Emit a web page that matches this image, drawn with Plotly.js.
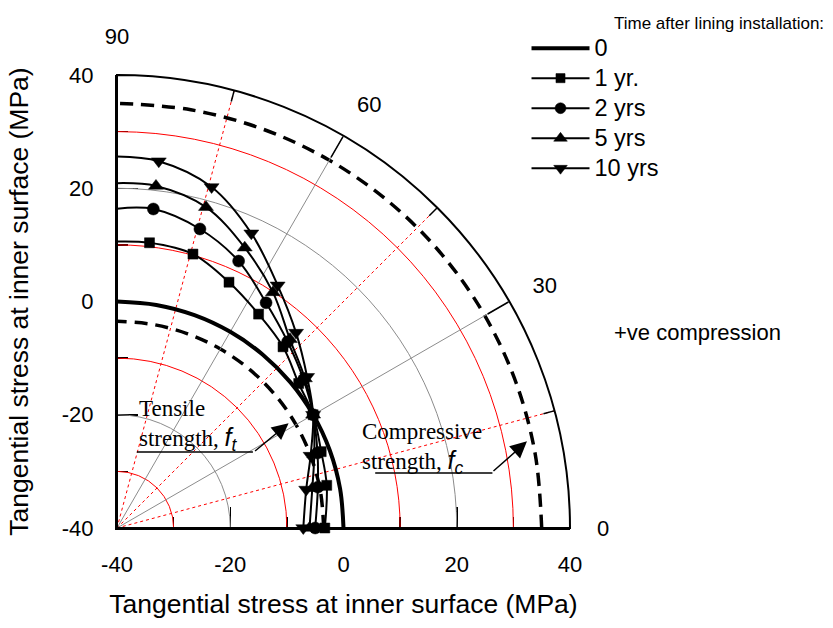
<!DOCTYPE html>
<html><head><meta charset="utf-8">
<script src="https://cdn.plot.ly/plotly-3.0.1.min.js"></script>
<style>html,body{margin:0;padding:0;background:#fff}#chart{width:833px;height:628px}</style>
</head><body><div id="chart"></div>
<script>
// ---- data (theta in degrees, r in MPa) ----
const seriesNames = ['0', '1 yr.', '2 yrs', '5 yrs', '10 yrs'];
const thetaRef = [0, 10, 20, 30, 40, 50, 60, 70, 80, 90];
const rZero = [0, 0, 0, 0, 0, 0, 0, 0, 0, 0];
const rTensile = [-3.5, -3.5, -3.5, -3.5, -3.5, -3.5, -3.5, -3.5, -3.5, -3.5];
const rCompressive = [35, 35, 35, 35, 35, 35, 35, 35, 35, 35];
const thetaSeries = [0, 11.5, 20.5, 30, 38.5, 47.5, 56.5, 65.5, 74.5, 83.5, 90];
const r1yr = [-3.3, -2.2, -1.5, 0, 1.0, 3.4, 5.3, 7.7, 10.2, 10.7, 10.6];
const r2yrs = [-5.0, -3.8, -2.2, 0, 2.1, 4.6, 7.7, 11.8, 14.8, 16.7, 16.4];
const r5yrs = [-6.0, -4.8, -2.8, 0, 2.4, 5.2, 9.9, 14.4, 18.8, 20.8, 20.9];
const r10yrs = [-7.1, -5.9, -3.5, 0, 2.9, 6.8, 11.4, 17.2, 22.5, 25.2, 25.6];
const angleTicks = [0, 30, 60, 90];
const axisTicks = [-40, -20, 0, 20, 40];
const axisTickText = ['-40', '-20', '0', '20', '40'];

const SANS = '"Liberation Sans", Arial, sans-serif';
const SERIF = '"Liberation Serif", "Times New Roman", serif';

function mSizes(th, s) { return th.map(t => t === 90 ? 0 : s); }
function mk(symbol, size) {
  return {symbol: symbol, size: mSizes(thetaSeries, size), color: '#000', opacity: 1, line: {color: '#000', width: 0.5}};
}
function legendName(i) { return '<span style="font-size:23.5px">' + seriesNames[i] + '</span>'; }

const traces = [
  {type: 'scatterpolar', subplot: 'polar', theta: thetaRef, r: rTensile, mode: 'lines',
   line: {color: '#000', width: 3.5, dash: '13px,8px', shape: 'spline'}, showlegend: false, hoverinfo: 'skip'},
  {type: 'scatterpolar', subplot: 'polar', theta: thetaRef, r: rCompressive, mode: 'lines',
   line: {color: '#000', width: 3.5, dash: '13px,8px', shape: 'spline'}, showlegend: false, hoverinfo: 'skip'},
  {type: 'scatterpolar', subplot: 'polar2', theta: thetaRef, r: rZero, mode: 'lines', name: legendName(0),
   line: {color: '#000', width: 4, shape: 'spline'}},
  {type: 'scatterpolar', subplot: 'polar3', theta: thetaSeries, r: r1yr, mode: 'lines+markers', name: legendName(1),
   line: {color: '#000', width: 2, shape: 'spline'}, marker: mk('square', 10)},
  {type: 'scatterpolar', subplot: 'polar3', theta: thetaSeries, r: r2yrs, mode: 'lines+markers', name: legendName(2),
   line: {color: '#000', width: 2, shape: 'spline'}, marker: mk('circle', 12)},
  {type: 'scatterpolar', subplot: 'polar3', theta: thetaSeries, r: r5yrs, mode: 'lines+markers', name: legendName(3),
   line: {color: '#000', width: 2, shape: 'spline'}, marker: mk('triangle-up', 13)},
  {type: 'scatterpolar', subplot: 'polar3', theta: thetaSeries, r: r10yrs, mode: 'lines+markers', name: legendName(4),
   line: {color: '#000', width: 2, shape: 'spline'}, marker: mk('triangle-down', 13)}
];

const dom = {x: [0, 1], y: [0, 1]};
const baseRadial = {range: [-40, 40], showline: false, showticklabels: false, ticks: ''};
function cartAxis(standoff, labelStandoff) {
  return {range: [-40, 40], domain: [0, 1], showgrid: false, zeroline: false, showline: true, linecolor: '#000', linewidth: 2,
    tickmode: 'array', tickvals: axisTicks, ticktext: axisTickText, ticks: 'inside', ticklen: 21, tickwidth: 1.5, tickcolor: '#000',
    minor: {tickmode: 'linear', tick0: -40, dtick: 10, ticks: 'inside', ticklen: 11, tickwidth: 1.5, tickcolor: '#000'},
    tickfont: {size: 22}, ticklabelstandoff: labelStandoff, fixedrange: true,
    title: {text: 'Tangential stress at inner surface (MPa)', font: {size: 26.5}, standoff: standoff}};
}
const layout = {
  width: 833, height: 628,
  margin: {l: 117, r: 263, t: 75, b: 100, pad: 0},
  paper_bgcolor: '#fff', plot_bgcolor: 'rgba(0,0,0,0)',
  font: {family: SANS, color: '#000', size: 22},
  showlegend: true,
  legend: {x: 0.904, xanchor: 'left', y: 1.1035, yanchor: 'top', bgcolor: 'rgba(0,0,0,0)',
           font: {family: SANS, size: 20.8}, itemwidth: 58, tracegroupgap: 0, traceorder: 'normal'},
  xaxis: cartAxis(18, 16),
  yaxis: cartAxis(26, 17),
  polar: {domain: dom, sector: [0, 90], bgcolor: 'rgba(0,0,0,0)',
    radialaxis: Object.assign({}, baseRadial, {tickmode: 'array', tickvals: [-30, -10, 10, 30], showgrid: true, gridcolor: '#ff0000', gridwidth: 1}),
    angularaxis: {rotation: 0, direction: 'counterclockwise', tickmode: 'array', tickvals: [15, 45, 75], showgrid: true,
      gridcolor: '#ff0000', gridwidth: 1, griddash: 'dot', ticks: 'inside', ticklen: 11, tickwidth: 1.5, tickcolor: '#000',
      showticklabels: false, showline: false}},
  polar2: {domain: dom, sector: [0, 90], bgcolor: 'rgba(0,0,0,0)',
    radialaxis: Object.assign({}, baseRadial, {tickmode: 'array', tickvals: [-20, 0, 20], showgrid: true, gridcolor: '#8c8c8c', gridwidth: 1}),
    angularaxis: {rotation: 0, direction: 'counterclockwise', tickmode: 'array', tickvals: [30, 60], showgrid: true,
      gridcolor: '#8c8c8c', gridwidth: 1, ticks: 'inside', ticklen: 24, tickwidth: 1.5, tickcolor: '#000',
      showticklabels: false, showline: true, linecolor: '#000', linewidth: 2}},
  polar3: {domain: dom, sector: [0, 90], bgcolor: 'rgba(0,0,0,0)',
    radialaxis: Object.assign({}, baseRadial, {visible: false, showgrid: false}),
    angularaxis: {rotation: 0, direction: 'counterclockwise', tickmode: 'array', tickvals: angleTicks,
      ticktext: angleTicks.map(String), showgrid: false, showline: false, ticks: 'outside', ticklen: 22,
      tickcolor: 'rgba(0,0,0,0)', tickfont: {size: 22, family: SANS}}},
  shapes: [
    {type: 'line', xref: 'x', yref: 'y', x0: -36.5, x1: -16.0, y0: -26.6, y1: -26.6, line: {color: '#000', width: 1.5}},
    {type: 'line', xref: 'x', yref: 'y', x0: 5.6, x1: 26.3, y0: -30.3, y1: -30.3, line: {color: '#000', width: 1.5}}
  ],
  annotations: [
    {xref: 'paper', yref: 'paper', x: 1.093, y: 1.113, xanchor: 'left', yanchor: 'middle', showarrow: false,
     text: 'Time after lining installation:', font: {family: SANS, size: 17}},
    {xref: 'paper', yref: 'paper', x: 1.093, y: 0.4305, xanchor: 'left', yanchor: 'middle', showarrow: false,
     text: '+ve compression', font: {family: SANS, size: 22}},
    {xref: 'x', yref: 'y', x: -36.4, y: -21.9, xanchor: 'left', yanchor: 'middle', align: 'left', showarrow: false,
     text: "Tensile<br>strength, <span style=\"font-family:'Liberation Sans';font-size:25px\"><i>f<sub>t</sub></i></span>",
     font: {family: SERIF, size: 23}},
    {xref: 'x', yref: 'y', x: -9.7, y: -21.5, ax: -35, ay: 29, text: '', showarrow: true, arrowhead: 2, arrowsize: 2.2,
     arrowwidth: 1.5, arrowcolor: '#000', standoff: 0},
    {xref: 'x', yref: 'y', x: 3.0, y: -26.0, xanchor: 'left', yanchor: 'middle', align: 'left', showarrow: false,
     text: "Compressive<br>strength, <span style=\"font-family:'Liberation Sans';font-size:25px\"><i>f<sub>c</sub></i></span>",
     font: {family: SERIF, size: 23}},
    {xref: 'x', yref: 'y', x: 32.4, y: -24.7, ax: -35, ay: 31, text: '', showarrow: true, arrowhead: 2, arrowsize: 2.2,
     arrowwidth: 1.5, arrowcolor: '#000', standoff: 0}
  ]
};

Plotly.newPlot('chart', traces, layout, {staticPlot: true, displayModeBar: false});
</script>
</body></html>
